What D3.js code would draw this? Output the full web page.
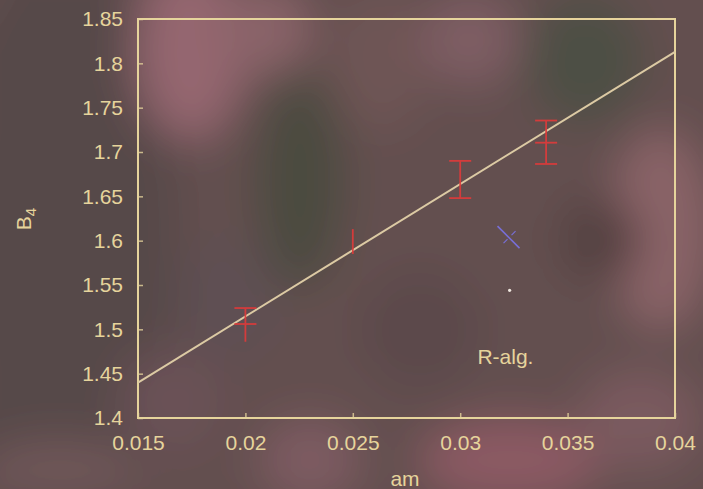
<!DOCTYPE html>
<html>
<head>
<meta charset="utf-8">
<script src="https://cdn.jsdelivr.net/npm/d3@7"></script>
<style>
  html, body { margin: 0; padding: 0; background: #5e4c4e; }
  svg { display: block; }
</style>
</head>
<body>
<svg id="chart" width="703" height="489"></svg>
<script>
// Axis ticks
const xTicks = [0.015, 0.02, 0.025, 0.03, 0.035, 0.04];
const yTicks = [1.4, 1.45, 1.5, 1.55, 1.6, 1.65, 1.7, 1.75, 1.8, 1.85];

// Error intervals drawn with caps at both ends
const amCapped = [0.020, 0.030, 0.034];
const b4CappedLow = [1.506, 1.648, 1.6865];
const b4CappedHigh = [1.524, 1.690, 1.7355];

// Central value marks
const amCenter = [0.034];
const b4Center = [1.7105];

// Error intervals without caps
const amPlain = [0.020, 0.025];
const b4PlainLow = [1.486, 1.585];
const b4PlainHigh = [1.506, 1.613];

// Linear fit
const fitAm = [0.015, 0.04];
const fitB4 = [1.440, 1.813];

// R-algorithm result and reference point
const rAlgAm = [0.03225];
const rAlgB4 = [1.604];
const dotAm = [0.0323];
const dotB4 = [1.544];
const labelAm = 0.0308;
const labelB4 = 1.461;

// Soft background patches: [cx, cy, rx, ry, color]
const bgPatches = [
  [60, 250, 120, 300, "#564849"],
  [190, 50, 55, 90, "#94666f"],
  [265, 30, 45, 45, "#8a6469"],
  [300, 180, 45, 110, "#4b4b40"],
  [230, 300, 50, 60, "#5e5052"],
  [380, 60, 50, 70, "#6e5555"],
  [470, 40, 50, 45, "#7e5d63"],
  [585, 60, 60, 65, "#4e5044"],
  [660, 230, 50, 100, "#8a6368"],
  [600, 240, 40, 40, "#523f40"],
  [510, 460, 90, 40, "#8c5a64"],
  [310, 460, 50, 40, "#7e5c62"],
  [60, 470, 80, 30, "#6f5759"],
  [420, 330, 60, 60, "#5b4a4c"],
  [640, 420, 60, 50, "#7a5a5f"],
  [170, 400, 50, 50, "#6a5156"]
];

const W = 703, H = 489;
const margin = { left: 138, top: 19, right: 28, bottom: 71 };
const svg = d3.select("#chart");

const defs = svg.append("defs");
defs.append("filter").attr("id", "soft")
  .attr("x", "-50%").attr("y", "-50%").attr("width", "200%").attr("height", "200%")
  .append("feGaussianBlur").attr("stdDeviation", 22);

const bg = svg.append("g").attr("filter", "url(#soft)");
bg.append("rect").attr("x", -50).attr("y", -50).attr("width", W + 100).attr("height", H + 100).attr("fill", "#64504f");
bg.selectAll("ellipse").data(bgPatches).join("ellipse")
  .attr("cx", d => d[0]).attr("cy", d => d[1])
  .attr("rx", d => d[2]).attr("ry", d => d[3])
  .attr("fill", d => d[4]);

const x = d3.scaleLinear().domain([0.015, 0.04]).range([margin.left, W - margin.right]);
const y = d3.scaleLinear().domain([1.4, 1.85]).range([H - margin.bottom, margin.top]);

const fg = "#e6d49c";
const font = "'Liberation Sans', Arial, sans-serif";

// Axes
const xAxis = d3.axisBottom(x).tickValues(xTicks).tickFormat(d3.format("")).tickSize(-5).tickPadding(20);
const yAxis = d3.axisLeft(y).tickValues(yTicks).tickFormat(d3.format("")).tickSize(-5).tickPadding(15);

const gx = svg.append("g").attr("transform", `translate(0,${H - margin.bottom})`).call(xAxis);
const gy = svg.append("g").attr("transform", `translate(${margin.left},0)`).call(yAxis);
[gx, gy].forEach(g => {
  g.select(".domain").remove();
  g.selectAll(".tick line").attr("stroke", fg).attr("stroke-width", 1.5).attr("opacity", 0.8);
  g.selectAll(".tick text").attr("fill", fg).attr("font-family", font).attr("font-size", 21);
});
gx.selectAll(".tick text").attr("dy", "0.71em").attr("y", 17);

// Frame
svg.append("rect")
  .attr("x", margin.left).attr("y", margin.top)
  .attr("width", W - margin.left - margin.right)
  .attr("height", H - margin.top - margin.bottom)
  .attr("fill", "none").attr("stroke", fg).attr("stroke-width", 2);

// Fit line
const line = d3.line().x(d => x(d[0])).y(d => y(d[1]));
svg.append("path")
  .attr("d", line(fitAm.map((a, i) => [a, fitB4[i]])))
  .attr("fill", "none").attr("stroke", "#dccaa4").attr("stroke-width", 2);

// Error bars
const red = "#e03a3a";
const cap = 11;
const bars = svg.append("g").attr("stroke", red).attr("stroke-width", 1.8).attr("opacity", 0.9);
amCapped.forEach((a, i) => {
  const cx = x(a);
  bars.append("line").attr("x1", cx).attr("x2", cx).attr("y1", y(b4CappedLow[i])).attr("y2", y(b4CappedHigh[i]));
  [b4CappedLow[i], b4CappedHigh[i]].forEach(v => {
    bars.append("line").attr("x1", cx - cap).attr("x2", cx + cap).attr("y1", y(v)).attr("y2", y(v));
  });
});
amCenter.forEach((a, i) => {
  bars.append("line").attr("x1", x(a) - cap).attr("x2", x(a) + cap).attr("y1", y(b4Center[i])).attr("y2", y(b4Center[i]));
});
amPlain.forEach((a, i) => {
  bars.append("line").attr("x1", x(a)).attr("x2", x(a)).attr("y1", y(b4PlainLow[i])).attr("y2", y(b4PlainHigh[i]));
});

// R-algorithm cross
const blue = "#7a72e6";
rAlgAm.forEach((a, i) => {
  const cx = x(a), cy = y(rAlgB4[i]);
  const g = svg.append("g").attr("stroke", blue).attr("stroke-width", 1.6).attr("opacity", 0.9);
  g.append("line").attr("x1", cx - 11).attr("y1", cy - 11).attr("x2", cx + 11).attr("y2", cy + 11);
  g.append("line").attr("x1", cx - 5).attr("y1", cy + 6).attr("x2", cx - 1).attr("y2", cy + 2).attr("stroke-width", 1.2);
  g.append("line").attr("x1", cx + 3).attr("y1", cy - 2).attr("x2", cx + 7).attr("y2", cy - 6).attr("stroke-width", 1.2);
});

// Reference dot
svg.selectAll(".dot").data(dotAm).join("circle").attr("class", "dot")
  .attr("cx", d => x(d)).attr("cy", (d, i) => y(dotB4[i])).attr("r", 1.6).attr("fill", "#f0e8e0");

// Label
svg.append("text").attr("x", x(labelAm)).attr("y", y(labelB4))
  .attr("fill", fg).attr("font-family", font).attr("font-size", 21).text("R-alg.");

// Axis titles
svg.append("text").attr("x", 405).attr("y", 486).attr("text-anchor", "middle")
  .attr("fill", fg).attr("font-family", font).attr("font-size", 21).text("am");
const yt = svg.append("text").attr("transform", "translate(31,219) rotate(-90)").attr("text-anchor", "middle")
  .attr("fill", fg).attr("font-family", font).attr("font-size", 21);
yt.append("tspan").text("B");
yt.append("tspan").attr("font-size", 15).attr("dy", 5).text("4");
</script>
</body>
</html>
